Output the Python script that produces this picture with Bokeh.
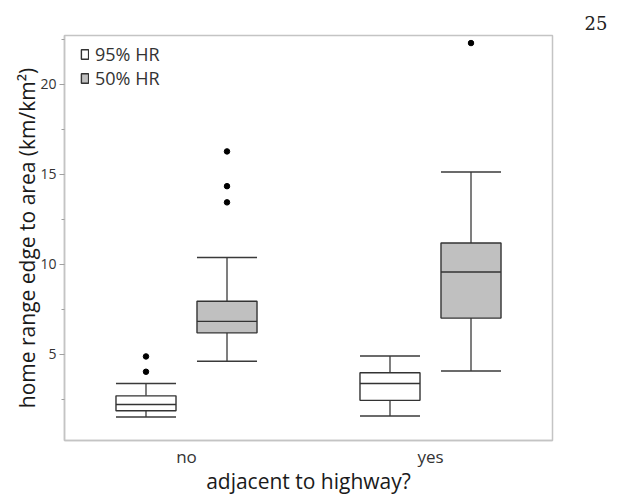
from bokeh.plotting import figure
from bokeh.models import (ColumnDataSource, FactorRange, Range1d, FixedTicker,
                          Legend, LegendItem)
from bokeh.transform import dodge
from bokeh.embed import file_html
from bokeh.resources import INLINE

# ---- data ----
groups = ["no", "yes"]

hr95_lower = [1.50, 1.56]
hr95_q1 = [1.85, 2.43]
hr95_median = [2.20, 3.37]
hr95_q3 = [2.68, 3.96]
hr95_upper = [3.37, 4.90]
hr95_out_group = ["no", "no"]
hr95_out_value = [4.02, 4.87]

hr50_lower = [4.60, 4.06]
hr50_q1 = [6.18, 7.00]
hr50_median = [6.82, 9.56]
hr50_q3 = [7.94, 11.17]
hr50_upper = [10.37, 15.11]
hr50_out_group = ["no", "no", "no", "yes"]
hr50_out_value = [13.43, 14.33, 16.26, 22.28]

y_ticks = [5, 10, 15, 20]
y_minor = [2.5, 7.5, 12.5, 17.5, 22.5]

FONT = "Open Sans"
OFF = 0.166
BW = 0.246

p = figure(width=608, height=498, output_backend="svg", toolbar_location=None,
           x_range=FactorRange(*groups, range_padding=0),
           y_range=Range1d(0.2, 22.7),
           min_border_left=64, min_border_right=56, min_border_top=35,
           min_border_bottom=58, title="25")

p.title.align = "right"
p.title.offset = -55
p.title.standoff = 12
p.title.text_font = "DejaVu Serif"
p.title.text_font_size = "18px"
p.title.text_font_style = "normal"
p.title.text_color = "#222222"

p.xgrid.visible = False
p.ygrid.visible = False
p.outline_line_color = "#c4c4c4"
p.outline_line_width = 1.5
p.background_fill_color = "white"
p.border_fill_color = "white"

def draw(lower, q1, med, q3, upper, og, ov, offset, fill):
    src = ColumnDataSource(dict(g=groups, lower=lower, q1=q1, med=med, q3=q3, upper=upper))
    xc = dodge("g", offset, range=p.x_range)
    xl = dodge("g", offset - BW / 2, range=p.x_range)
    xr = dodge("g", offset + BW / 2, range=p.x_range)
    # whiskers
    p.segment(x0=xc, y0="q3", x1=xc, y1="upper", source=src, line_color="#3a3a3a", line_width=1.3)
    p.segment(x0=xc, y0="lower", x1=xc, y1="q1", source=src, line_color="#3a3a3a", line_width=1.3)
    # caps
    p.segment(x0=xl, y0="upper", x1=xr, y1="upper", source=src, line_color="#3a3a3a", line_width=1.5)
    p.segment(x0=xl, y0="lower", x1=xr, y1="lower", source=src, line_color="#3a3a3a", line_width=1.5)
    # box
    box = p.vbar(x=xc, width=BW, bottom="q1", top="q3", source=src,
                 fill_color=fill, line_color="#333333", line_width=1.4)
    # median
    p.segment(x0=xl, y0="med", x1=xr, y1="med", source=src, line_color="#333333", line_width=1.4)
    # outliers
    osrc = ColumnDataSource(dict(g=og, v=ov))
    p.scatter(x=dodge("g", offset, range=p.x_range), y="v", source=osrc,
              size=5.5, fill_color="black", line_color="black")
    return box

box95 = draw(hr95_lower, hr95_q1, hr95_median, hr95_q3, hr95_upper,
             hr95_out_group, hr95_out_value, -OFF, "white")
box50 = draw(hr50_lower, hr50_q1, hr50_median, hr50_q3, hr50_upper,
             hr50_out_group, hr50_out_value, OFF, "#c0c0c0")

# axes
p.yaxis.ticker = FixedTicker(ticks=y_ticks, minor_ticks=y_minor)
p.yaxis.axis_label = "home range edge to area (km/km²)"
p.xaxis.axis_label = "adjacent to highway?"
for ax in (p.xaxis[0], p.yaxis[0]):
    ax.axis_line_color = "#c4c4c4"
    ax.axis_line_width = 1.5
    ax.major_tick_line_color = "#a0a0a0"
    ax.minor_tick_line_color = "#a0a0a0"
    ax.axis_label_text_font = FONT
    ax.axis_label_text_font_style = "normal"
    ax.axis_label_text_font_size = "21px"
    ax.axis_label_text_color = "#1a1a1a"
    ax.major_label_text_font = FONT
    ax.major_label_text_color = "#333333"

p.yaxis.major_tick_out = 5
p.yaxis.major_tick_in = 0
p.yaxis.minor_tick_out = 3
p.yaxis.minor_tick_in = 0
p.yaxis.major_label_text_font_size = "14px"
p.yaxis.major_label_standoff = 3
p.yaxis.axis_label_standoff = -4

p.xaxis.major_tick_line_color = None
p.xaxis.minor_tick_line_color = None
p.xaxis.major_tick_out = 0
p.xaxis.major_tick_in = 0
p.xaxis.minor_tick_out = 0
p.xaxis.major_label_text_font_size = "17px"
p.xaxis.major_label_standoff = 4
p.xaxis.axis_label_standoff = -4

legend = Legend(items=[LegendItem(label="95% HR", renderers=[box95]),
                       LegendItem(label="50% HR", renderers=[box50])],
                location=(16, 350), border_line_color=None,
                background_fill_alpha=0, margin=0, padding=0, spacing=0,
                glyph_width=9, glyph_height=12, label_standoff=6,
                label_text_font=FONT, label_text_font_size="18px",
                label_text_color="#333333")
p.add_layout(legend)

open("out.html", "w").write(file_html(p, INLINE))
